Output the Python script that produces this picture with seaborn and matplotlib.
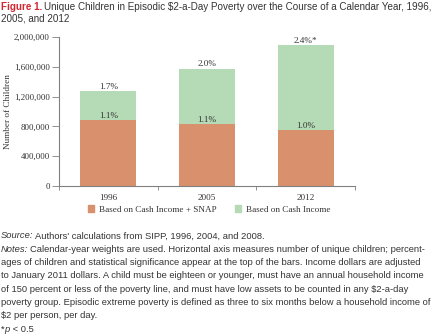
import matplotlib
matplotlib.use("Agg")
import matplotlib.pyplot as plt
import seaborn as sns
import pandas as pd
from matplotlib.ticker import FuncFormatter, FixedLocator
from matplotlib.patches import Patch

years = ["1996", "2005", "2012"]
cash_income = [1275000, 1576000, 1891000]
cash_snap = [885000, 827000, 746000]
cash_pct = ["1.7%", "2.0%", "2.4%*"]
snap_pct = ["1.1%", "1.1%", "1.0%"]
y_ticks = [0, 400000, 800000, 1200000, 1600000, 2000000]

GREEN = "#B5DBB6"
ORANGE = "#D9906C"
SPINE = "#808080"
TEXT = "#333333"
SERIF = ["Liberation Serif", "DejaVu Serif"]
SANS = ["Liberation Sans", "DejaVu Sans"]

sns.set_theme(style="white")
plt.rcParams["font.family"] = SANS

df = pd.DataFrame({"year": years, "cash": cash_income, "snap": cash_snap})

fig = plt.figure(figsize=(4.4, 3.36), dpi=100)
ax = fig.add_axes([0.134, 0.447, 0.673, 0.442])

sns.barplot(data=df, x="year", y="cash", color=GREEN, width=0.57,
            saturation=1, ax=ax, linewidth=0)
sns.barplot(data=df, x="year", y="snap", color=ORANGE, width=0.57,
            saturation=1, ax=ax, linewidth=0)

ax.bar_label(ax.containers[0], labels=cash_pct, padding=0.3,
             fontsize=6.6, family=SERIF, color=TEXT)
ax.bar_label(ax.containers[1], labels=snap_pct, padding=0.3,
             fontsize=6.6, family=SERIF, color=TEXT)

ax.set_xlim(-0.5, 2.5)
ax.set_ylim(0, 2000000)
ax.set_yticks(y_ticks)
ax.yaxis.set_major_formatter(FuncFormatter(lambda v, p: f"{int(v):,}"))
ax.xaxis.set_major_locator(FixedLocator([-0.5, 0.5, 1.5, 2.5]))
ax.set_xticklabels([])
ax.xaxis.set_minor_locator(FixedLocator([0, 1, 2]))
ax.set_xticklabels(years, minor=True)
ax.tick_params(axis="x", which="major", length=3, width=0.6, color=SPINE,
               bottom=True, direction="out")
ax.tick_params(axis="x", which="minor", length=0, pad=6, labelsize=6.6,
               labelcolor=TEXT)
ax.tick_params(axis="y", length=5, width=0.6, color=SPINE, left=True,
               labelsize=6.4, labelcolor=TEXT, pad=1.5)
for lbl in ax.get_xticklabels(minor=True) + ax.get_yticklabels():
    lbl.set_family(SERIF)

ax.set_xlabel("")
ax.set_ylabel("Number of Children", family=SERIF, fontsize=6.6, color=TEXT)
ax.yaxis.set_label_coords(-0.158, 0.5)
for s in ["top", "right"]:
    ax.spines[s].set_visible(False)
for s in ["left", "bottom"]:
    ax.spines[s].set_color(SPINE)
    ax.spines[s].set_linewidth(0.8)

handles = [Patch(color=ORANGE, label="Based on Cash Income + SNAP"),
           Patch(color=GREEN, label="Based on Cash Income")]
fig.legend(handles=handles, loc="center", bbox_to_anchor=(0.475, 0.376),
           ncol=2, frameon=False, prop={"family": SERIF, "size": 6.6},
           handlelength=0.7, handleheight=0.7, handletextpad=0.5,
           columnspacing=2.0, labelcolor=TEXT)

renderer = fig.canvas.get_renderer()
W, H = 440, 336


def lead_text(x_px, y_px, lead, rest, size, lead_kw):
    """Draw a styled lead-in followed by plain text on one line."""
    t = fig.text(x_px / W, 1 - y_px / H, lead, fontsize=size, va="center",
                 ha="left", **lead_kw)
    ext = t.get_window_extent(renderer)
    fig.text((ext.x1 + size * 0.28) / W, 1 - y_px / H, rest, fontsize=size,
             va="center", ha="left", color=TEXT)


# Title
TSIZE = 7.1
lead_text(1, 6.5, "Figure 1.",
          "Unique Children in Episodic $2-a-Day Poverty over the Course of a Calendar Year, 1996,",
          TSIZE, dict(color="#D22630", fontweight="bold"))
fig.text(1 / W, 1 - 18.5 / H, "2005, and 2012", color=TEXT, fontsize=TSIZE,
         va="center", ha="left")

# Source and notes
NSIZE = 6.75
y0 = 236
step = 13.3
lead_text(1, y0, "Source:", "Authors' calculations from SIPP, 1996, 2004, and 2008.",
          NSIZE, dict(color=TEXT, style="italic"))
lead_text(1, y0 + step, "Notes:",
          "Calendar-year weights are used. Horizontal axis measures number of unique children; percent-",
          NSIZE, dict(color=TEXT, style="italic"))
more_lines = [
    "ages of children and statistical significance appear at the top of the bars. Income dollars are adjusted",
    "to January 2011 dollars. A child must be eighteen or younger, must have an annual household income",
    "of 150 percent or less of the poverty line, and must have low assets to be counted in any $2-a-day",
    "poverty group. Episodic extreme poverty is defined as three to six months below a household income of",
    "$2 per person, per day.",
]
for i, line in enumerate(more_lines):
    fig.text(1 / W, 1 - (y0 + (i + 2) * step) / H, line, color=TEXT,
             fontsize=NSIZE, va="center", ha="left")

# Significance footnote: *p < 0.5
yf = 1 - (y0 + 7 * step) / H
t_star = fig.text(1 / W, yf, "*", color=TEXT, fontsize=NSIZE,
                  va="center", ha="left")
sx = t_star.get_window_extent(renderer).x1
t_p = fig.text(sx / W, yf, "p", color=TEXT, fontsize=NSIZE,
               va="center", ha="left", style="italic")
px = t_p.get_window_extent(renderer).x1
fig.text(px / W, yf, " < 0.5", color=TEXT, fontsize=NSIZE,
         va="center", ha="left")

fig.savefig("out.png", dpi=100)
